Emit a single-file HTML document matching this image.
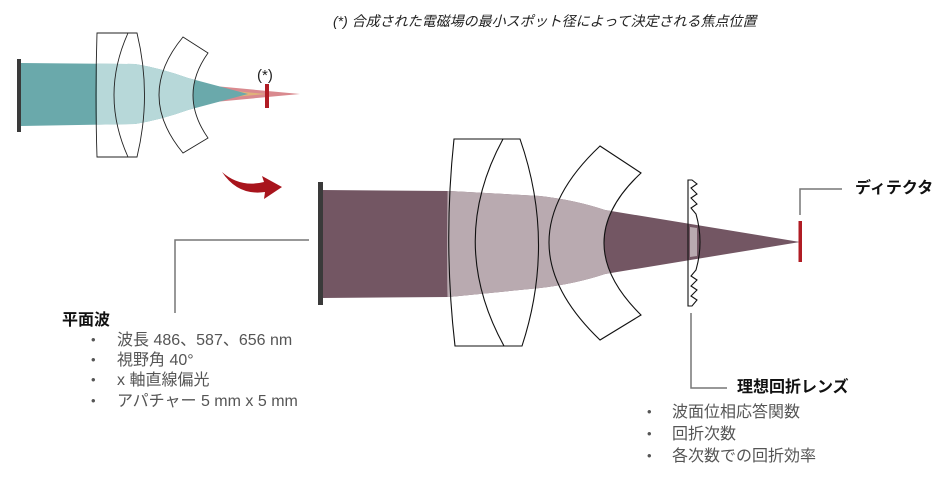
<!DOCTYPE html>
<html><head><meta charset="utf-8"><style>
body{margin:0;background:#fff;width:940px;height:480px;overflow:hidden}
svg{display:block}
text{font-family:"Liberation Sans","Noto Sans CJK JP",sans-serif}
</style></head><body>
<svg width="940" height="480" viewBox="0 0 940 480">
<defs>
<clipPath id="c1"><path d="M451,100 L600,100 L641,173 Q567,242 641,315 L600,400 L451,400 Q443,242 451,100Z"/></clipPath>
<clipPath id="c2"><path d="M97,20 L183,20 L208,53 Q178,95 208,138 L183,170 L97,170Z"/></clipPath>
</defs>
<text x="333" y="26" font-size="14" font-style="italic" fill="#222">(*) 合成された電磁場の最小スポット径によって決定される焦点位置</text>
<!-- small diagram -->
<polygon points="150,80 300,94 150,108" fill="#d98a8f"/>
<polygon points="150,83 266,94 150,105" fill="#e0b27a"/>
<path d="M21,63 L135,64 Q160,68 188,78 L248,94 L188,110 Q160,120 135,124 L21,126Z" fill="#6aa9ab"/>
<path d="M21,63 L135,64 Q160,68 188,78 L248,94 L188,110 Q160,120 135,124 L21,126Z" fill="#b7d8d9" clip-path="url(#c2)"/>
<rect x="17" y="59" width="4" height="73" fill="#3a3a3a"/>
<g fill="none" stroke="#222" stroke-width="0.9">
<path d="M97,33 L137,33 Q152,95 137,157 L97,157 Q95,95 97,33Z"/>
<path d="M128,33 Q100,95 128,157"/>
<path d="M183,37 L208,53 Q178,95 208,138 L183,153 Q135,95 183,37Z"/>
</g>
<rect x="265" y="84" width="4" height="24" fill="#b01c24"/>
<text x="257" y="80" font-size="15" fill="#222">(*)</text>
<!-- arrow -->
<path d="M222,172 Q240,188 264,182 L262,176 L282,187 L264,199 L265,192 Q238,196 222,172Z" fill="#a8141c"/>
<!-- main beam -->
<path id="bm" d="M321,190 L449,191 L540,196 Q575,200 605,210 L800,242 L605,274 Q575,284 540,288 L449,297 L321,298Z" fill="#735663"/>
<path d="M321,190 L449,191 L540,196 Q575,200 605,210 L800,242 L605,274 Q575,284 540,288 L449,297 L321,298Z" fill="#b9aab0" clip-path="url(#c1)"/>
<path d="M690,227 L697,228 L697,256 L690,257Z" fill="#b9aab0"/>
<rect x="318" y="182" width="5" height="123" fill="#3a3a3a"/>
<g fill="none" stroke="#111" stroke-width="1.1">
<path d="M454,139 L520,139 Q556,242 522,346 L455,346 Q443,242 454,139Z"/>
<path d="M503,139 Q447,242 504,346"/>
<path d="M600,146 L641,173 Q567,242 641,315 L600,340 Q498,242 600,146Z"/>
<path d="M688,180 L688,306 L692,306 L697,300 L691,296 L697,290 L691,286 L697,280 L691,276 L696,270 Q704,242 696,214 L691,208 L697,204 L691,198 L697,194 L691,188 L697,184 L692,180 Z"/>
</g>
<rect x="798.5" y="221" width="3.5" height="41" fill="#b01c24"/>
<g fill="none" stroke="#777" stroke-width="1.5">
<path d="M309,240 L175,240 L175,313"/>
<path d="M691,313 L691,388 L727,388"/>
<path d="M800,215 L800,189 L842,189"/>
</g>
<text x="855" y="193" font-size="16" font-weight="bold" fill="#111">ディテクタ</text>
<text x="62" y="325" font-size="16" font-weight="bold" fill="#111">平面波</text>
<g font-size="16" fill="#555">
<text x="91" y="344" font-size="13">•</text><text x="117" y="345">波長 486、587、656 nm</text>
<text x="91" y="364" font-size="13">•</text><text x="117" y="365">視野角 40°</text>
<text x="91" y="384" font-size="13">•</text><text x="117" y="385">x 軸直線偏光</text>
<text x="91" y="405" font-size="13">•</text><text x="117" y="406">アパチャー 5 mm x 5 mm</text>
</g>
<text x="737" y="392" font-size="16" font-weight="bold" fill="#111">理想回折レンズ</text>
<g font-size="16" fill="#555">
<text x="647" y="416" font-size="13">•</text><text x="672" y="417">波面位相応答関数</text>
<text x="647" y="438" font-size="13">•</text><text x="672" y="439">回折次数</text>
<text x="647" y="460" font-size="13">•</text><text x="672" y="461">各次数での回折効率</text>
</g>
</svg>
</body></html>
